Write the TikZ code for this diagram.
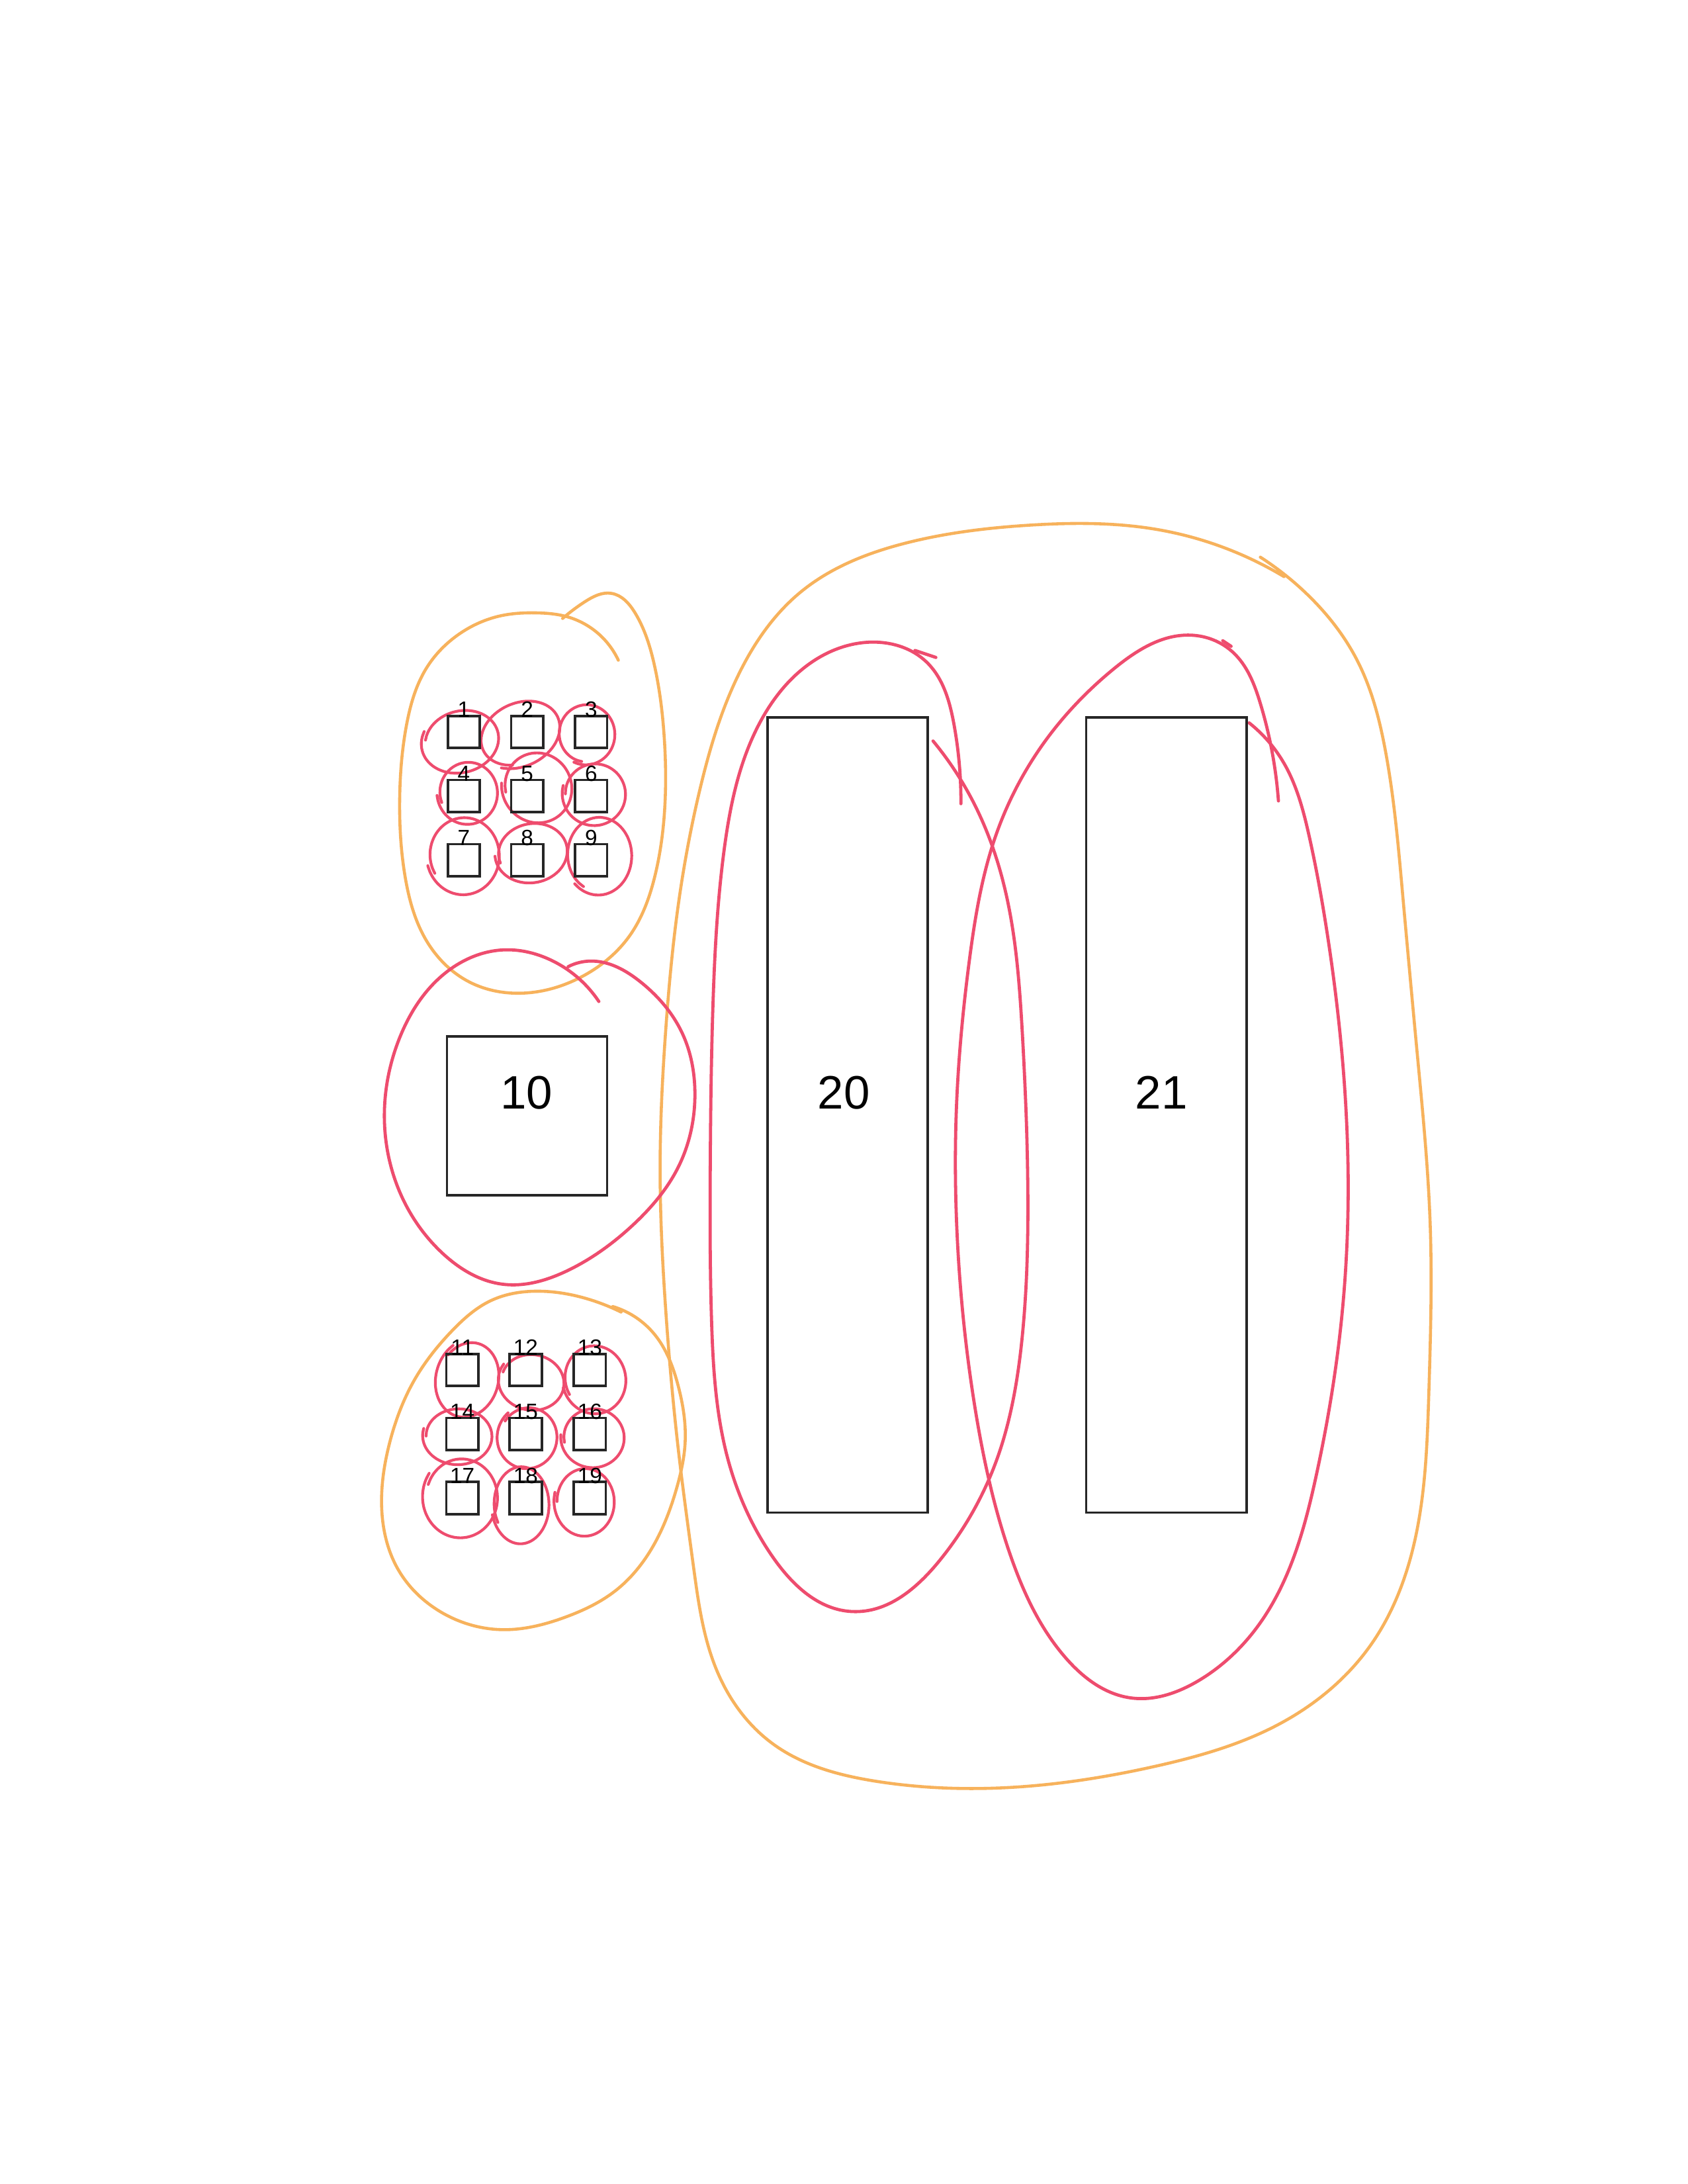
\documentclass[tikz,border=0pt]{standalone}
\usepackage{fontspec}
\setmainfont{Liberation Sans}
\usetikzlibrary{hobby}
\definecolor{redc}{RGB}{238,76,110}
\definecolor{orangec}{RGB}{247,178,92}
\begin{document}
\begin{tikzpicture}[x=0.50495pt, y=-0.50495pt,
  redline/.style={draw=redc, line width=1.15pt, line cap=round, line join=round},
  orangeline/.style={draw=orangec, line width=1.1pt, line cap=round, line join=round},
  smallbox/.style={draw=black!85, line width=0.9pt, minimum width=11.6pt, minimum height=11.6pt, inner sep=0pt},
  bigbox/.style={draw=black!85, line width=0.9pt, inner sep=0pt},
  smalllabel/.style={font=\fontsize{8}{9}\selectfont, inner sep=0pt, anchor=base},
  biglabel/.style={font=\fontsize{17}{20}\selectfont, inner sep=0pt, anchor=base}]
\useasboundingbox (0,0) rectangle (1212,1568);
\fill[white] (0,0) rectangle (1212,1568);

% ---- orange outlines ----
\draw[orangeline] (444,474) to[curve through={(408,443) .. (385,440) .. (360,442) .. (330,455) .. (306,480) .. (292,520) .. (287,573) .. (291,630) .. (306,675) .. (337,705) .. (376,713) .. (420,700) .. (452,672) .. (470,630) .. (477,585) .. (477,530) .. (470,478) .. (456,440) .. (439,426) .. (420,432)}] (404,444);
\draw[orangeline] (446,942) to[curve through={(420,932) .. (385,927) .. (352,934) .. (325,955) .. (298,990) .. (280,1035) .. (274,1080) .. (286,1127) .. (316,1157) .. (361,1170) .. (406,1161) .. (442,1142) .. (469,1110) .. (486,1068) .. (492,1035) .. (487,995) .. (470,958)}] (440,938);
\draw[orangeline] (905,400) to[curve through={(940,428) .. (975,475) .. (995,540) .. (1007,640) .. (1018,760) .. (1027,880) .. (1026,1000) .. (1015,1110) .. (985,1180) .. (920,1237) .. (830,1268) .. (730,1283) .. (630,1279) .. (555,1252) .. (515,1200) .. (498,1125) .. (487,1040) .. (478,940) .. (474,840) .. (478,740) .. (487,650) .. (503,565) .. (530,485) .. (575,425) .. (650,390) .. (740,377) .. (830,380)}] (922,414);

% ---- red loops ----
\draw[redline] (430,719) to[curve through={(395,689) .. (361,682) .. (318,700) .. (287,745) .. (276,800) .. (288,858) .. (318,900) .. (361,922) .. (408,912) .. (455,879) .. (487,838) .. (499,785) .. (490,742) .. (460,705) .. (424,690)}] (408,694);
\draw[redline] (670,532) to[curve through={(700,578) .. (722,640) .. (734,740) .. (738,850) .. (734,960) .. (715,1050) .. (675,1120) .. (612,1157) .. (555,1118) .. (522,1045) .. (511,950) .. (510,840) .. (512,720) .. (520,610) .. (545,520) .. (585,474) .. (628,461) .. (665,475) .. (685,520)}] (690,577);
\draw[redline] (657,467) -- (672,472);
\draw[redline] (897,519) to[curve through={(922,548) .. (940,600) .. (953,670) .. (963,750) .. (968,840) .. (963,950) .. (945,1060) .. (905,1165) .. (860,1207) .. (812,1219) .. (765,1190) .. (725,1115) .. (700,1010) .. (688,900) .. (687,790) .. (696,690) .. (715,600) .. (752,530) .. (800,480) .. (855,456) .. (885,468) .. (905,505)}] (918,575);
\draw[redline] (878,460) -- (884,464);

\foreach \cx/\cy/\rx/\ry/\rot/\st in {
  331/532/26/21/15/200, 373/527/28/21/25/120, 421/527/19/20/0/100,
  336/569/20/21/0/160, 386/565/23/24/30/200, 427/570/21/21/0/180,
  333/614/24/26/0/150, 382/612/24/20/10/170, 430/614/22/26/0/120,
  336/990/21/26/-15/210, 382/992/22/19/-10/190, 427/990/21/23/10/160,
  329/1031/23/19/0/180, 379/1032/20/21/-15/200, 426/1032/21/20/0/170,
  331/1075/25/27/0/200, 374/1080/19/26/0/150, 420/1078/20/23/0/180}{
  \draw[redline, line width=1pt, rotate around={\rot:(\cx,\cy)}] plot[smooth, domain=\st:\st+375, samples=40, variable=\t]
    ({\cx+\rx*(1+0.0003*(\t-\st))*cos(\t)}, {\cy+\ry*(1+0.0003*(\t-\st))*sin(\t)});
}

% ---- boxes ----
\node[bigbox, minimum width=58.07pt, minimum height=57.56pt] (b10) at (378.5,801) {};
\node[bigbox, minimum width=58.07pt, minimum height=288.3pt] (b20) at (608.5,800.5) {};
\node[bigbox, minimum width=58.07pt, minimum height=288.3pt] (b21) at (837.5,800.5) {};
\node[biglabel] (t10) at (378,796) {10};
\node[biglabel] (t20) at (606,796) {20};
\node[biglabel] (t21) at (834,796) {21};

\foreach \n/\cx/\cy in {1/333/525.5, 2/378.5/525.5, 3/424.5/525.5,
  4/333/571.5, 5/378.5/571.5, 6/424.5/571.5,
  7/333/617.5, 8/378.5/617.5, 9/424.5/617.5,
  11/332/983.5, 12/377.5/983.5, 13/423.5/983.5,
  14/332/1029.5, 15/377.5/1029.5, 16/423.5/1029.5,
  17/332/1075.5, 18/377.5/1075.5, 19/423.5/1075.5}{
  \node[smallbox] (s\n) at (\cx,\cy) {};
  \node[smalllabel] (l\n) at (\cx,\cy-10.5) {\n};
}
\end{tikzpicture}
\end{document}
